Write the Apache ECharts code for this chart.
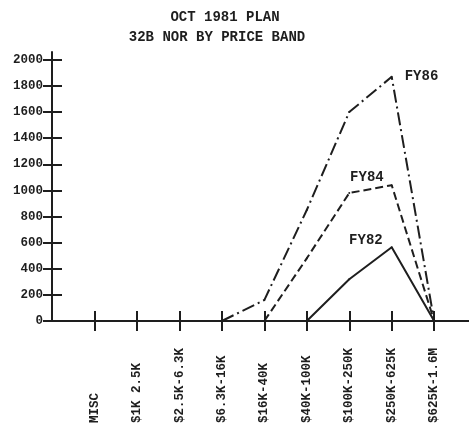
<!DOCTYPE html>
<html>
<head>
<meta charset="utf-8">
<script src="https://cdn.jsdelivr.net/npm/echarts@6/dist/echarts.min.js"></script>
<style>
  html, body { margin: 0; padding: 0; background: #fff; }
  #chart { width: 469px; height: 430px; }
</style>
</head>
<body>
<div id="chart"></div>
<script>
// Price bands along the horizontal axis
const categories = ['MISC', '$1K 2.5K', '$2.5K-6.3K', '$6.3K-16K', '$16K-40K',
                    '$40K-100K', '$100K-250K', '$250K-625K', '$625K-1.6M'];

// NOR by price band for each plan year (null = no line in that band)
const fy86 = [null, null, null, 0, 160, 850, 1600, 1870, 0];
const fy84 = [null, null, null, null, 0, 480, 980, 1040, 0];
const fy82 = [null, null, null, null, null, 0, 320, 565, 0];

// Vertical axis tick labels
const yTicks = [0, 200, 400, 600, 800, 1000, 1200, 1400, 1600, 1800, 2000];

const ink = '#1e1e1e';
const mono = '"Liberation Mono", "DejaVu Sans Mono", monospace';
const catPositions = categories.map((_, i) => i + 1);

// Line points: category index on x, band value on y
function toPoints(values) {
  return values.map((v, i) => [i + 1, v]);
}

// Label a single point of a series (the peak band)
function withLabel(points, index, label) {
  return points.map((p, i) => i === index ? { value: p, label: label } : p);
}

const labelFont = { fontFamily: mono, fontWeight: 'bold', fontSize: 14, color: ink };

const chart = echarts.init(document.getElementById('chart'), null, { renderer: 'canvas' });

const xBase = {
  type: 'value', min: 0, max: 9.82, position: 'bottom',
  splitLine: { show: false }
};
const yBase = {
  type: 'value', min: 0, max: 2060, position: 'left',
  splitLine: { show: false }
};

chart.setOption({
  backgroundColor: '#fff',
  animation: false,
  title: [
    { text: 'OCT 1981 PLAN', left: 220, top: 5, textAlign: 'center',
      textStyle: { fontFamily: mono, fontWeight: 'bold', fontSize: 14, color: ink } },
    { text: '32B NOR BY PRICE BAND', left: 212, top: 25, textAlign: 'center',
      textStyle: { fontFamily: mono, fontWeight: 'bold', fontSize: 14, color: ink } }
  ],
  grid: { left: 52, right: 0, top: 52, bottom: 109, containLabel: false },
  xAxis: [
    Object.assign({}, xBase, {
      axisLine: { show: true, onZero: false, lineStyle: { color: ink, width: 2 } },
      axisTick: { show: true, customValues: catPositions, length: 10, lineStyle: { color: ink, width: 2 } },
      axisLabel: {
        show: true, customValues: catPositions, rotate: 90, align: 'left', margin: 102,
        formatter: v => categories[Math.round(v) - 1] || '',
        fontFamily: mono, fontWeight: 'bold', fontSize: 12.5, color: ink
      }
    }),
    Object.assign({}, xBase, {
      axisLine: { show: false, onZero: false },
      axisTick: { show: true, inside: true, customValues: catPositions, length: 10, lineStyle: { color: ink, width: 2 } },
      axisLabel: { show: false }
    })
  ],
  yAxis: [
    Object.assign({}, yBase, {
      axisLine: { show: true, onZero: false, lineStyle: { color: ink, width: 2 } },
      axisTick: { show: true, customValues: yTicks, length: 9, lineStyle: { color: ink, width: 2 } },
      axisLabel: {
        show: true, customValues: yTicks, margin: 9,
        formatter: v => String(v),
        fontFamily: mono, fontWeight: 'bold', fontSize: 12.5, color: ink
      }
    }),
    Object.assign({}, yBase, {
      axisLine: { show: false, onZero: false },
      axisTick: { show: true, inside: true, customValues: yTicks, length: 10, lineStyle: { color: ink, width: 2 } },
      axisLabel: { show: false }
    })
  ],
  series: [
    {
      name: 'FY86', type: 'line', xAxisIndex: 0, yAxisIndex: 0,
      symbol: 'circle', symbolSize: 2, itemStyle: { color: ink },
      lineStyle: { color: ink, width: 2, type: [13, 4, 2, 4] },
      data: withLabel(toPoints(fy86), 7,
        Object.assign({ show: true, position: 'right', distance: 12, formatter: 'FY86' }, labelFont))
    },
    {
      name: 'FY84', type: 'line', xAxisIndex: 0, yAxisIndex: 0,
      symbol: 'circle', symbolSize: 2, itemStyle: { color: ink },
      lineStyle: { color: ink, width: 2, type: [8, 4] },
      data: withLabel(toPoints(fy84), 7,
        Object.assign({ show: true, position: 'left', distance: 7, offset: [0, -8], formatter: 'FY84' }, labelFont))
    },
    {
      name: 'FY82', type: 'line', xAxisIndex: 0, yAxisIndex: 0,
      symbol: 'circle', symbolSize: 2, itemStyle: { color: ink },
      lineStyle: { color: ink, width: 2, type: 'solid' },
      data: withLabel(toPoints(fy82), 7,
        Object.assign({ show: true, position: 'left', distance: 8, offset: [0, -7], formatter: 'FY82' }, labelFont))
    }
  ]
});
</script>
</body>
</html>
